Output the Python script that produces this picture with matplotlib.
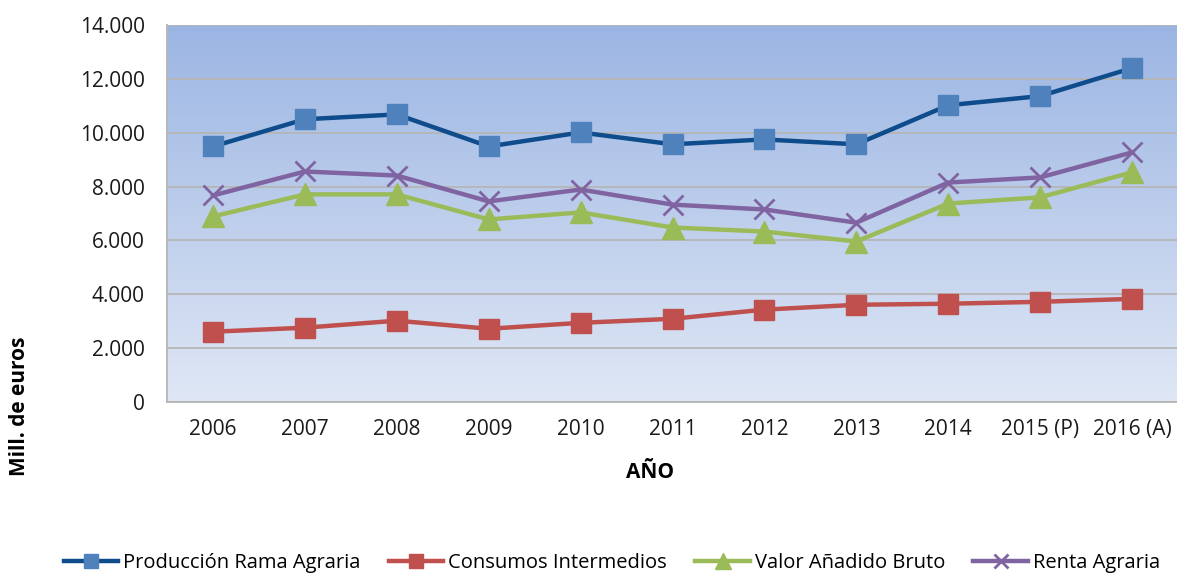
import matplotlib
matplotlib.use("Agg")
import matplotlib.pyplot as plt
import numpy as np
from matplotlib.ticker import FuncFormatter, MultipleLocator

years = ["2006", "2007", "2008", "2009", "2010", "2011", "2012", "2013", "2014", "2015 (P)", "2016 (A)"]
produccion = [9490, 10500, 10680, 9490, 10010, 9570, 9750, 9570, 11020, 11360, 12400]
consumos = [2610, 2760, 3020, 2720, 2940, 3090, 3430, 3610, 3650, 3720, 3830]
vab = [6890, 7710, 7710, 6780, 7040, 6480, 6330, 5960, 7370, 7600, 8530]
renta = [7670, 8560, 8410, 7450, 7890, 7330, 7150, 6660, 8150, 8340, 9270]

plt.rcParams['font.family'] = ['Open Sans', 'DejaVu Sans']

fig = plt.figure(figsize=(11.77, 5.74), dpi=100)
ax = fig.add_axes([167/1177, 1-402/574, (1178-167)/1177, (402-25)/574])

x = np.arange(len(years))
ax.set_xlim(-0.5, len(years) - 0.5)
ax.set_ylim(0, 14000)

# gradient background
grad = np.linspace(0, 1, 256).reshape(-1, 1)
top = np.array([0x9b, 0xb5, 0xe3]) / 255
bot = np.array([0xdf, 0xe7, 0xf5]) / 255
img = top[None, None, :] * (1 - grad[:, :, None]) + bot[None, None, :] * grad[:, :, None]
ax.imshow(img, aspect='auto', extent=[0, 1, 0, 1], transform=ax.transAxes, zorder=0)

ax.yaxis.set_major_locator(MultipleLocator(2000))
ax.grid(axis='y', color='#b5b5b5', linewidth=1.3, zorder=1)
ax.set_axisbelow(True)
for s in ['top', 'right']:
    ax.spines[s].set_visible(False)
ax.spines['left'].set_color('#b5b5b5')
ax.spines['bottom'].set_color('#b5b5b5')
ax.spines['left'].set_linewidth(1.3)
ax.spines['bottom'].set_linewidth(1.3)

ax.yaxis.set_major_formatter(FuncFormatter(lambda v, p: f"{int(v):,}".replace(",", ".")))
ax.set_xticks(x)
ax.set_xticklabels(years)
ax.tick_params(axis='both', length=0, labelsize=15, colors='#1a1a1a')
ax.tick_params(axis='x', pad=12)
ax.tick_params(axis='y', pad=16)

ax.plot(x, produccion, color='#0f4c8c', lw=3.2, marker='s', ms=14.5, mfc='#4f81bd', mec='#4f81bd',
        label='Producción Rama Agraria', zorder=5)
ax.plot(x, consumos, color='#c0504d', lw=3.2, marker='s', ms=14.5, mfc='#c0504d', mec='#c0504d',
        label='Consumos Intermedios', zorder=4)
ax.plot(x, vab, color='#9bbb59', lw=3.2, marker='^', ms=16, mfc='#9bbb59', mec='#9bbb59',
        label='Valor Añadido Bruto', zorder=4)
ax.plot(x, renta, color='#8064a2', lw=3.2, marker='x', ms=14, mew=2, mfc='#8064a2', mec='#8064a2',
        label='Renta Agraria', zorder=4)

fig.text(650/1177, 1-472/574, 'AÑO', fontsize=15, fontweight='bold', ha='center', va='center')
fig.text(20/1177, 1-406/574, 'Mill. de euros', rotation=90, fontsize=15, fontweight='bold',
         ha='center', va='center')

leg = fig.legend(loc='center', bbox_to_anchor=(612/1177, 1-563/574), ncol=4, frameon=False,
                 fontsize=14.5, handlelength=2.7, columnspacing=1.4, handletextpad=0.25,
                 markerscale=0.7)

fig.savefig('out.png', dpi=100)
